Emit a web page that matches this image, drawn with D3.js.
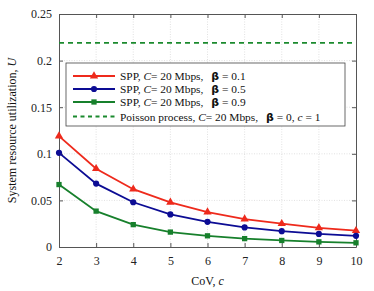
<!DOCTYPE html>
<html>
<head>
<meta charset="utf-8">
<script src="https://cdn.jsdelivr.net/npm/d3@7"></script>
<style>
body { margin: 0; background: #fff; }
text { font-family: "Liberation Serif", "Times New Roman", serif; }
</style>
</head>
<body>
<script>
// data
var cov = [2, 3, 4, 5, 6, 7, 8, 9, 10];
var beta01 = [0.119, 0.084, 0.062, 0.048, 0.0375, 0.030, 0.025, 0.0205, 0.0175];
var beta05 = [0.101, 0.068, 0.048, 0.035, 0.027, 0.021, 0.017, 0.014, 0.012];
var beta09 = [0.067, 0.0385, 0.024, 0.016, 0.012, 0.009, 0.007, 0.0055, 0.0045];
var poisson = 0.219;
var yTicks = [0, 0.05, 0.1, 0.15, 0.2, 0.25];
var yTickLabels = ["0", "0.05", "0.1", "0.15", "0.2", "0.25"];

var margin = { left: 59, right: 18, top: 14, bottom: 44 },
    width = 374 - margin.left - margin.right,
    height = 291 - margin.top - margin.bottom;

var svg = d3.select("body")
    .append("svg")
    .attr("width", 374)
    .attr("height", 291)
    .append("g")
    .attr("transform", "translate(" + margin.left + "," + margin.top + ")");

var x = d3.scaleLinear().domain([2, 10]).range([0, width]);
var y = d3.scaleLinear().domain([0, 0.25]).range([height, 0]);

// grid
svg.append("g").selectAll("line").data(cov.slice(1, -1)).enter().append("line")
    .attr("x1", d => x(d)).attr("x2", d => x(d))
    .attr("y1", 0).attr("y2", height)
    .attr("stroke", "#d4d4d4").attr("stroke-width", 0.7).attr("stroke-dasharray", "1,1.5");
svg.append("g").selectAll("line").data(yTicks.slice(1, -1)).enter().append("line")
    .attr("y1", d => y(d)).attr("y2", d => y(d))
    .attr("x1", 0).attr("x2", width)
    .attr("stroke", "#d4d4d4").attr("stroke-width", 0.7).attr("stroke-dasharray", "1,1.5");

// axes, ticks inward on all four sides
function styleAxis(g) {
    g.select(".domain").attr("stroke", "#555").attr("stroke-width", 1);
    g.selectAll(".tick line").attr("stroke", "#555");
    g.selectAll(".tick text").attr("font-size", 12).attr("fill", "#222")
        .style("font-family", "'Liberation Serif', serif");
}
svg.append("g").attr("transform", "translate(0," + height + ")")
    .call(d3.axisBottom(x).tickValues(cov).tickSize(-4).tickPadding(9).tickSizeOuter(0))
    .call(styleAxis);
svg.append("g")
    .call(d3.axisTop(x).tickValues(cov).tickSize(-4).tickFormat("").tickSizeOuter(0))
    .call(styleAxis);
svg.append("g")
    .call(d3.axisLeft(y).tickValues(yTicks).tickFormat((d, i) => yTickLabels[i]).tickSize(-4).tickPadding(7).tickSizeOuter(0))
    .call(styleAxis);
svg.append("g").attr("transform", "translate(" + width + ",0)")
    .call(d3.axisRight(y).tickValues(yTicks).tickFormat("").tickSize(-4).tickSizeOuter(0))
    .call(styleAxis);

// poisson reference line
svg.append("line")
    .attr("x1", 0).attr("x2", width)
    .attr("y1", y(poisson)).attr("y2", y(poisson))
    .attr("stroke", "#1b8a2e").attr("stroke-width", 1.8).attr("stroke-dasharray", "5,4");

var series = [
    { vals: beta01, color: "#ee2a1c", shape: d3.symbolTriangle, size: 30 },
    { vals: beta05, color: "#0c0c94", shape: d3.symbolCircle, size: 30 },
    { vals: beta09, color: "#17802c", shape: d3.symbolSquare, size: 28 }
];

var line = d3.line().x((d, i) => x(cov[i])).y(d => y(d));

series.forEach(function(s) {
    svg.append("path").datum(s.vals)
        .attr("fill", "none").attr("stroke", s.color).attr("stroke-width", 1.8)
        .attr("d", line);
    svg.append("g").selectAll("path").data(s.vals).enter().append("path")
        .attr("transform", (d, i) => "translate(" + x(cov[i]) + "," + y(d) + ")")
        .attr("d", d3.symbol().type(s.shape).size(s.size))
        .attr("fill", s.color);
});

// legend
var lg = svg.append("g").attr("transform", "translate(7,49)");
lg.append("rect").attr("width", 279).attr("height", 63)
    .attr("fill", "#fff").attr("stroke", "#444").attr("stroke-width", 0.8);

var legendItems = [
    { color: "#ee2a1c", shape: d3.symbolTriangle, size: 30, dash: null, pre: "SPP, ", beta: " = 0.1", tail: "" },
    { color: "#0c0c94", shape: d3.symbolCircle, size: 30, dash: null, pre: "SPP, ", beta: " = 0.5", tail: "" },
    { color: "#17802c", shape: d3.symbolSquare, size: 28, dash: null, pre: "SPP, ", beta: " = 0.9", tail: "" },
    { color: "#1b8a2e", shape: null, size: 0, dash: "4,3.5", pre: "Poisson process, ", beta: " = 0, ", tail: "c" }
];
var rowY = [13, 26, 39, 53.5];

legendItems.forEach(function(it, i) {
    var ry = rowY[i];
    lg.append("line").attr("x1", 7).attr("x2", 49).attr("y1", ry).attr("y2", ry)
        .attr("stroke", it.color).attr("stroke-width", 1.8)
        .attr("stroke-dasharray", it.dash);
    if (it.shape) {
        lg.append("path").attr("transform", "translate(28," + ry + ")")
            .attr("d", d3.symbol().type(it.shape).size(it.size)).attr("fill", it.color);
    }
    var t = lg.append("text").attr("x", 54).attr("y", ry + 4)
        .attr("font-size", 11.4).attr("fill", "#111");
    t.append("tspan").text(it.pre);
    t.append("tspan").attr("font-style", "italic").text("C");
    t.append("tspan").text("= 20 Mbps,");
    t.append("tspan").attr("dx", 8).attr("font-family", "'DejaVu Sans', sans-serif")
        .attr("font-size", 11).attr("font-weight", "bold").text("\u03B2");
    t.append("tspan").text(it.beta);
    if (it.tail) {
        t.append("tspan").attr("font-style", "italic").text(it.tail);
        t.append("tspan").text(" = 1");
    }
});

// axis titles
var xl = svg.append("text").attr("x", width / 2).attr("y", height + 38)
    .attr("text-anchor", "middle").attr("font-size", 12).attr("fill", "#111");
xl.append("tspan").text("CoV, ");
xl.append("tspan").attr("font-style", "italic").text("c");

var yl = svg.append("text")
    .attr("transform", "translate(-43," + (height / 2) + ") rotate(-90)")
    .attr("text-anchor", "middle").attr("font-size", 12).attr("fill", "#111");
yl.append("tspan").text("System resource utilization, ");
yl.append("tspan").attr("font-style", "italic").text("U");
</script>
</body>
</html>
